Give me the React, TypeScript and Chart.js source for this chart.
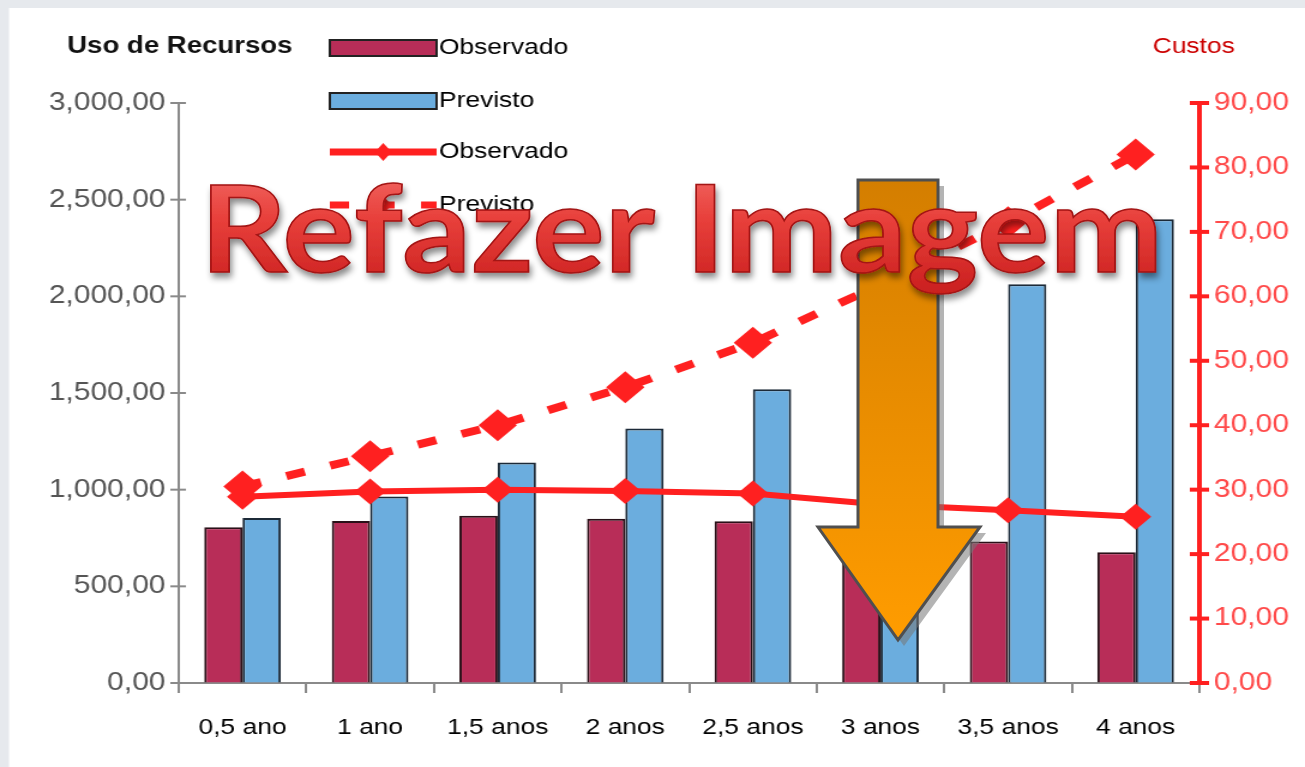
import React, { useEffect, useRef } from 'react';
import { Chart, registerables } from 'chart.js';

Chart.register(...registerables);

// ---- data ----
const categories = ['0,5 ano', '1 ano', '1,5 anos', '2 anos', '2,5 anos', '3 anos', '3,5 anos', '4 anos'];
const usoObservado = [805, 838, 865, 849, 837, 790, 732, 676];
const usoPrevisto = [853, 965, 1141, 1316, 1520, 1780, 2062, 2399];
const custoObservado = [28.9, 29.7, 30.0, 29.8, 29.4, 27.7, 26.8, 25.8];
const custoPrevisto = [30.5, 35.2, 40.0, 45.9, 52.8, 61.8, 71.5, 82.0];
const leftAxisMax = 3000;
const leftAxisStep = 500;
const rightAxisMax = 90;
const rightAxisStep = 10;
const seriesLabels = ['Observado', 'Previsto', 'Observado', 'Previsto'];
const leftTitle = 'Uso de Recursos';
const rightTitle = 'Custos';
const overlayText = 'Refazer Imagem';

// ---- layout ----
const PAGE_W = 1305;
const PAGE_H = 767;
const W = 1088; // internal canvas width (stretched horizontally to page width)
const H = 767;
const SX = PAGE_W / W;
const FONT = '"Liberation Sans", Arial, Helvetica, sans-serif';

const CRIMSON = '#b82d58';
const BLUE = '#6badde';
const RED = '#ff2020';

const fmtLeft = (v: number) => Number(v).toLocaleString('en-US') + ',00';
const fmtRight = (v: number) => `${v},00`;

const decor = {
  id: 'decor',
  beforeDraw(chart: any) {
    const ctx = chart.ctx;
    ctx.save();
    ctx.fillStyle = '#ffffff';
    ctx.fillRect(9 / SX, 8, W, H);
    ctx.restore();
  },
  beforeDatasetsDraw(chart: any) {
    const ctx = chart.ctx;
    const y = chart.scales.y;
    const y1 = chart.scales.y1;
    ctx.save();
    ctx.strokeStyle = '#8a8a8a';
    ctx.lineWidth = 2;
    y.ticks.forEach((_t: any, i: number) => {
      const p = y.getPixelForTick(i);
      ctx.beginPath();
      ctx.moveTo(y.right - 7, p);
      ctx.lineTo(y.right + 6, p);
      ctx.stroke();
    });
    ctx.strokeStyle = RED;
    ctx.lineWidth = 4;
    y1.ticks.forEach((_t: any, i: number) => {
      const p = y1.getPixelForTick(i);
      ctx.beginPath();
      ctx.moveTo(y1.left - 8, p);
      ctx.lineTo(y1.left + 8, p);
      ctx.stroke();
    });
    ctx.restore();
  },
  afterDraw(chart: any) {
    const ctx = chart.ctx;
    const ds = chart.data.datasets;
    ctx.save();
    ctx.textBaseline = 'middle';
    // titles
    ctx.fillStyle = '#111';
    ctx.font = `bold 23px ${FONT}`;
    ctx.textAlign = 'left';
    ctx.fillText(leftTitle, 56, 47);
    ctx.fillStyle = '#cc0000';
    ctx.font = `22px ${FONT}`;
    ctx.fillText(rightTitle, 961, 47);

    // legend
    const sx0 = 275;
    const sx1 = 364;
    const tx = 366;
    const rows = [48, 101, 152, 205];
    ctx.font = `22px ${FONT}`;
    ds.forEach((d: any, i: number) => {
      const cy = rows[i];
      if (d.type === 'line') {
        ctx.save();
        ctx.strokeStyle = d.borderColor;
        ctx.lineWidth = 7;
        if (d.borderDash) ctx.setLineDash(d.borderDash);
        ctx.beginPath();
        ctx.moveTo(sx0, cy);
        ctx.lineTo(sx1, cy);
        ctx.stroke();
        ctx.setLineDash([]);
        ctx.fillStyle = d.borderColor;
        const cx = (sx0 + sx1) / 2;
        ctx.beginPath();
        ctx.moveTo(cx, cy - 9);
        ctx.lineTo(cx + 7, cy);
        ctx.lineTo(cx, cy + 9);
        ctx.lineTo(cx - 7, cy);
        ctx.closePath();
        ctx.fill();
        ctx.restore();
      } else {
        ctx.fillStyle = d.backgroundColor;
        ctx.fillRect(sx0, cy - 8, sx1 - sx0, 16);
        ctx.strokeStyle = '#222';
        ctx.lineWidth = 2;
        ctx.strokeRect(sx0, cy - 8, sx1 - sx0, 16);
      }
      ctx.fillStyle = '#000';
      ctx.fillText(d.label, tx, cy);
    });
    ctx.restore();
  },
};

export default function App() {
  const ref = useRef<HTMLCanvasElement | null>(null);

  useEffect(() => {
    if (!ref.current) return;
    const chart = new Chart(ref.current, {
      type: 'bar',
      data: {
        labels: categories,
        datasets: [
          {
            type: 'bar',
            label: seriesLabels[0],
            data: usoObservado,
            backgroundColor: CRIMSON,
            borderColor: '#2a1018',
            borderWidth: 2,
            borderSkipped: 'start',
            yAxisID: 'y',
            order: 2,
            categoryPercentage: 0.6,
            barPercentage: 1.0,
          },
          {
            type: 'bar',
            label: seriesLabels[1],
            data: usoPrevisto,
            backgroundColor: BLUE,
            borderColor: '#1c2a38',
            borderWidth: 2,
            borderSkipped: 'start',
            yAxisID: 'y',
            order: 2,
            categoryPercentage: 0.6,
            barPercentage: 1.0,
          },
          {
            type: 'line',
            label: seriesLabels[2],
            data: custoObservado,
            borderColor: RED,
            backgroundColor: RED,
            borderWidth: 6,
            pointStyle: 'rectRot',
            pointRadius: 13,
            pointBackgroundColor: RED,
            pointBorderWidth: 0,
            tension: 0,
            yAxisID: 'y1',
            order: 1,
          },
          {
            type: 'line',
            label: seriesLabels[3],
            data: custoPrevisto,
            borderColor: RED,
            backgroundColor: RED,
            borderWidth: 8,
            borderDash: [16, 22],
            pointStyle: 'rectRot',
            pointRadius: 16,
            pointBackgroundColor: RED,
            pointBorderWidth: 0,
            tension: 0,
            yAxisID: 'y1',
            order: 0,
          },
        ] as any,
      },
      options: {
        responsive: false,
        animation: false,
        devicePixelRatio: 1,
        layout: { padding: { top: 103, left: 0, right: 0, bottom: 0 } },
        plugins: {
          legend: { display: false },
          tooltip: { enabled: false },
          title: { display: false },
        },
        scales: {
          x: {
            offset: true,
            grid: {
              display: true,
              offset: true,
              drawOnChartArea: false,
              drawTicks: true,
              tickLength: 10,
              color: '#8a8a8a',
              lineWidth: 2,
            },
            border: { display: true, color: '#8a8a8a', width: 2 },
            ticks: {
              color: '#000',
              font: { family: FONT, size: 22 },
              padding: 22,
              autoSkip: false,
              maxRotation: 0,
              minRotation: 0,
            },
            afterFit: (s: any) => {
              s.height = 84;
            },
          },
          y: {
            position: 'left',
            min: 0,
            max: leftAxisMax,
            grid: { display: true, drawOnChartArea: false, drawTicks: false },
            border: { display: true, color: '#8a8a8a', width: 2 },
            ticks: {
              stepSize: leftAxisStep,
              color: '#555',
              font: { family: FONT, size: 25 },
              padding: 11,
              callback: (v: any) => fmtLeft(v),
            },
            afterFit: (s: any) => {
              s.width = 149;
            },
          },
          y1: {
            position: 'right',
            min: 0,
            max: rightAxisMax,
            grid: { display: true, drawOnChartArea: false, drawTicks: false },
            border: { display: true, color: RED, width: 4 },
            ticks: {
              stepSize: rightAxisStep,
              color: '#ff4a4a',
              font: { family: FONT, size: 25 },
              padding: 12,
              callback: (v: any) => fmtRight(v),
            },
            afterFit: (s: any) => {
              s.width = 88;
            },
          },
        },
      } as any,
      plugins: [decor],
    });
    return () => chart.destroy();
  }, []);

  return (
    <div
      style={{
        position: 'fixed',
        left: 0,
        top: 0,
        width: PAGE_W,
        height: PAGE_H,
        overflow: 'hidden',
        background: '#e6e9ed',
      }}
    >
      <div
        style={{
          position: 'absolute',
          left: 0,
          top: 0,
          width: W,
          height: H,
          transform: `scaleX(${SX})`,
          transformOrigin: '0 0',
        }}
      >
        <canvas ref={ref} width={W} height={H} style={{ display: 'block' }} />
      </div>
      <svg
        width={PAGE_W}
        height={PAGE_H}
        style={{ position: 'absolute', left: 0, top: 0, pointerEvents: 'none' }}
      >
        <defs>
          <linearGradient id="arrowGrad" x1="0" y1="0" x2="0" y2="1">
            <stop offset="0" stopColor="#d47e00" />
            <stop offset="1" stopColor="#ff9c00" />
          </linearGradient>
          <linearGradient id="textGrad" x1="0" y1="0" x2="0" y2="1">
            <stop offset="0" stopColor="#f47470" />
            <stop offset="0.45" stopColor="#e8403b" />
            <stop offset="1" stopColor="#c81d1d" />
          </linearGradient>
          <filter id="txtShadow" x="-10%" y="-30%" width="120%" height="160%">
            <feDropShadow dx="2" dy="5" stdDeviation="3" floodColor="#000" floodOpacity="0.45" />
          </filter>
        </defs>
        <polygon
          points="858,180 938,180 938,527 980,527 898,640 818,527 858,527"
          fill="#777"
          opacity={0.55}
          transform="translate(6,6)"
        />
        <polygon
          points="858,180 938,180 938,527 980,527 898,640 818,527 858,527"
          fill="url(#arrowGrad)"
          stroke="#4f4f4f"
          strokeWidth={3}
        />
        <text
          x={200}
          y={272}
          fontFamily="Lato, 'Open Sans', sans-serif"
          fontWeight={700}
          fontSize={121}
          textLength={963}
          lengthAdjust="spacingAndGlyphs"
          fill="url(#textGrad)"
          stroke="#a31313"
          strokeWidth={1.5}
          filter="url(#txtShadow)"
        >
          {overlayText}
        </text>
      </svg>
    </div>
  );
}
